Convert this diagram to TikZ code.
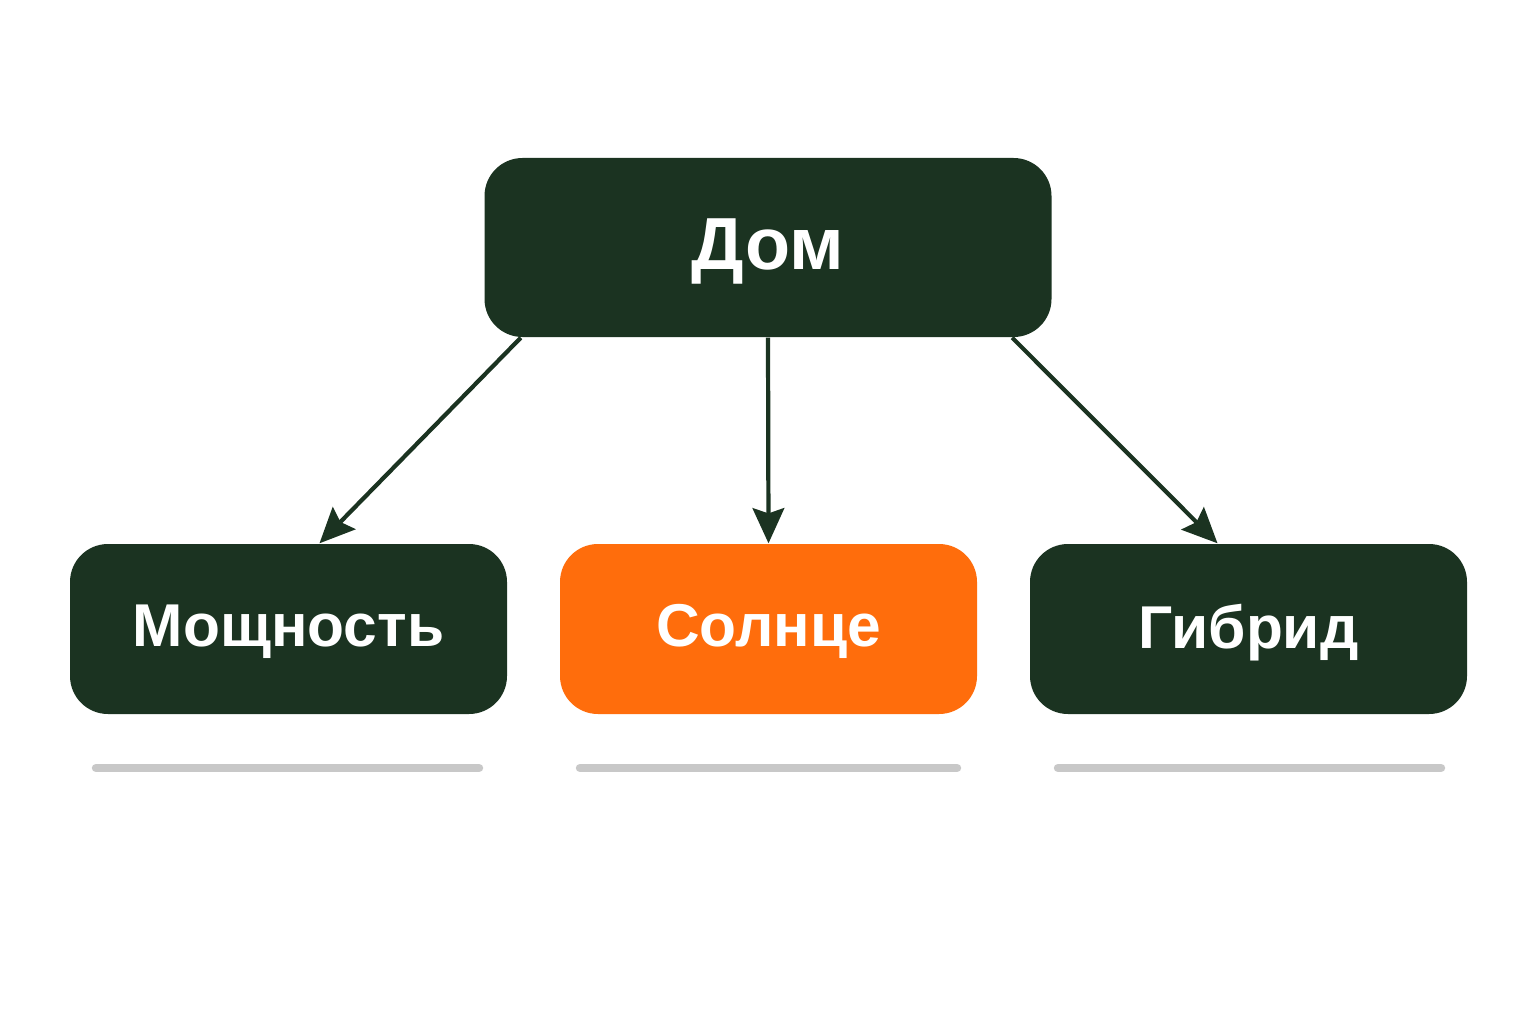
\documentclass[tikz,border=0pt]{standalone}
\usepackage{fontspec}
\setmainfont{Liberation Sans}
\definecolor{dom_green}{RGB}{27, 51, 33}
\definecolor{dom_orange}{RGB}{255, 109, 12}
\definecolor{dom_gray}{RGB}{200, 200, 200}
\usepackage{tikz}
\usetikzlibrary{arrows.meta, positioning, calc}

\begin{document}
\begin{tikzpicture}
        \useasboundingbox[fill=white] (0,0) rectangle (15.36,10.24);
        \tikzset{
          box/.style={rounded corners=0.38cm, fill=dom_green, text=white,
                      font=\fontsize{17.2}{22}\selectfont\bfseries,
                      minimum height=1.70cm, inner sep=0pt, text depth=1.8pt},
          link/.style={-{Stealth[length=10pt, width=9pt, inset=1.5pt]},
                       line width=1.2pt, draw=dom_green},
          rule/.style={dom_gray, line width=2.4pt, line cap=round}
        }

        % --- Top node ---
        \node[box, minimum width=5.67cm, minimum height=1.79cm,
              font=\fontsize{21}{26}\selectfont\bfseries] (dom) at (7.68, 7.765) {Дом};

        % --- Three choices ---
        \node[box, minimum width=4.37cm] (power) at (2.885, 3.95) {Мощность};
        \node[box, minimum width=4.17cm, fill=dom_orange] (sun) at (7.685, 3.95) {Солнце};
        \node[box, minimum width=4.37cm] (hybrid) at (12.485, 3.95) {Гибрид};

        % --- Arrows ---
        \draw[link] ($(dom.south west)+(0.37,0)$) -- ($(power.north)+(0.31,0)$);
        \draw[link] (dom.south) -- (sun.north);
        \draw[link] ($(dom.south east)+(-0.40,0)$) -- ($(hybrid.north)+(-0.31,0)$);

        % --- Gray rules under boxes ---
        \draw[rule] (0.96, 2.56) -- (4.79, 2.56);
        \draw[rule] (5.80, 2.56) -- (9.57, 2.56);
        \draw[rule] (10.58, 2.56) -- (14.41, 2.56);
      \end{tikzpicture}
\end{document}
